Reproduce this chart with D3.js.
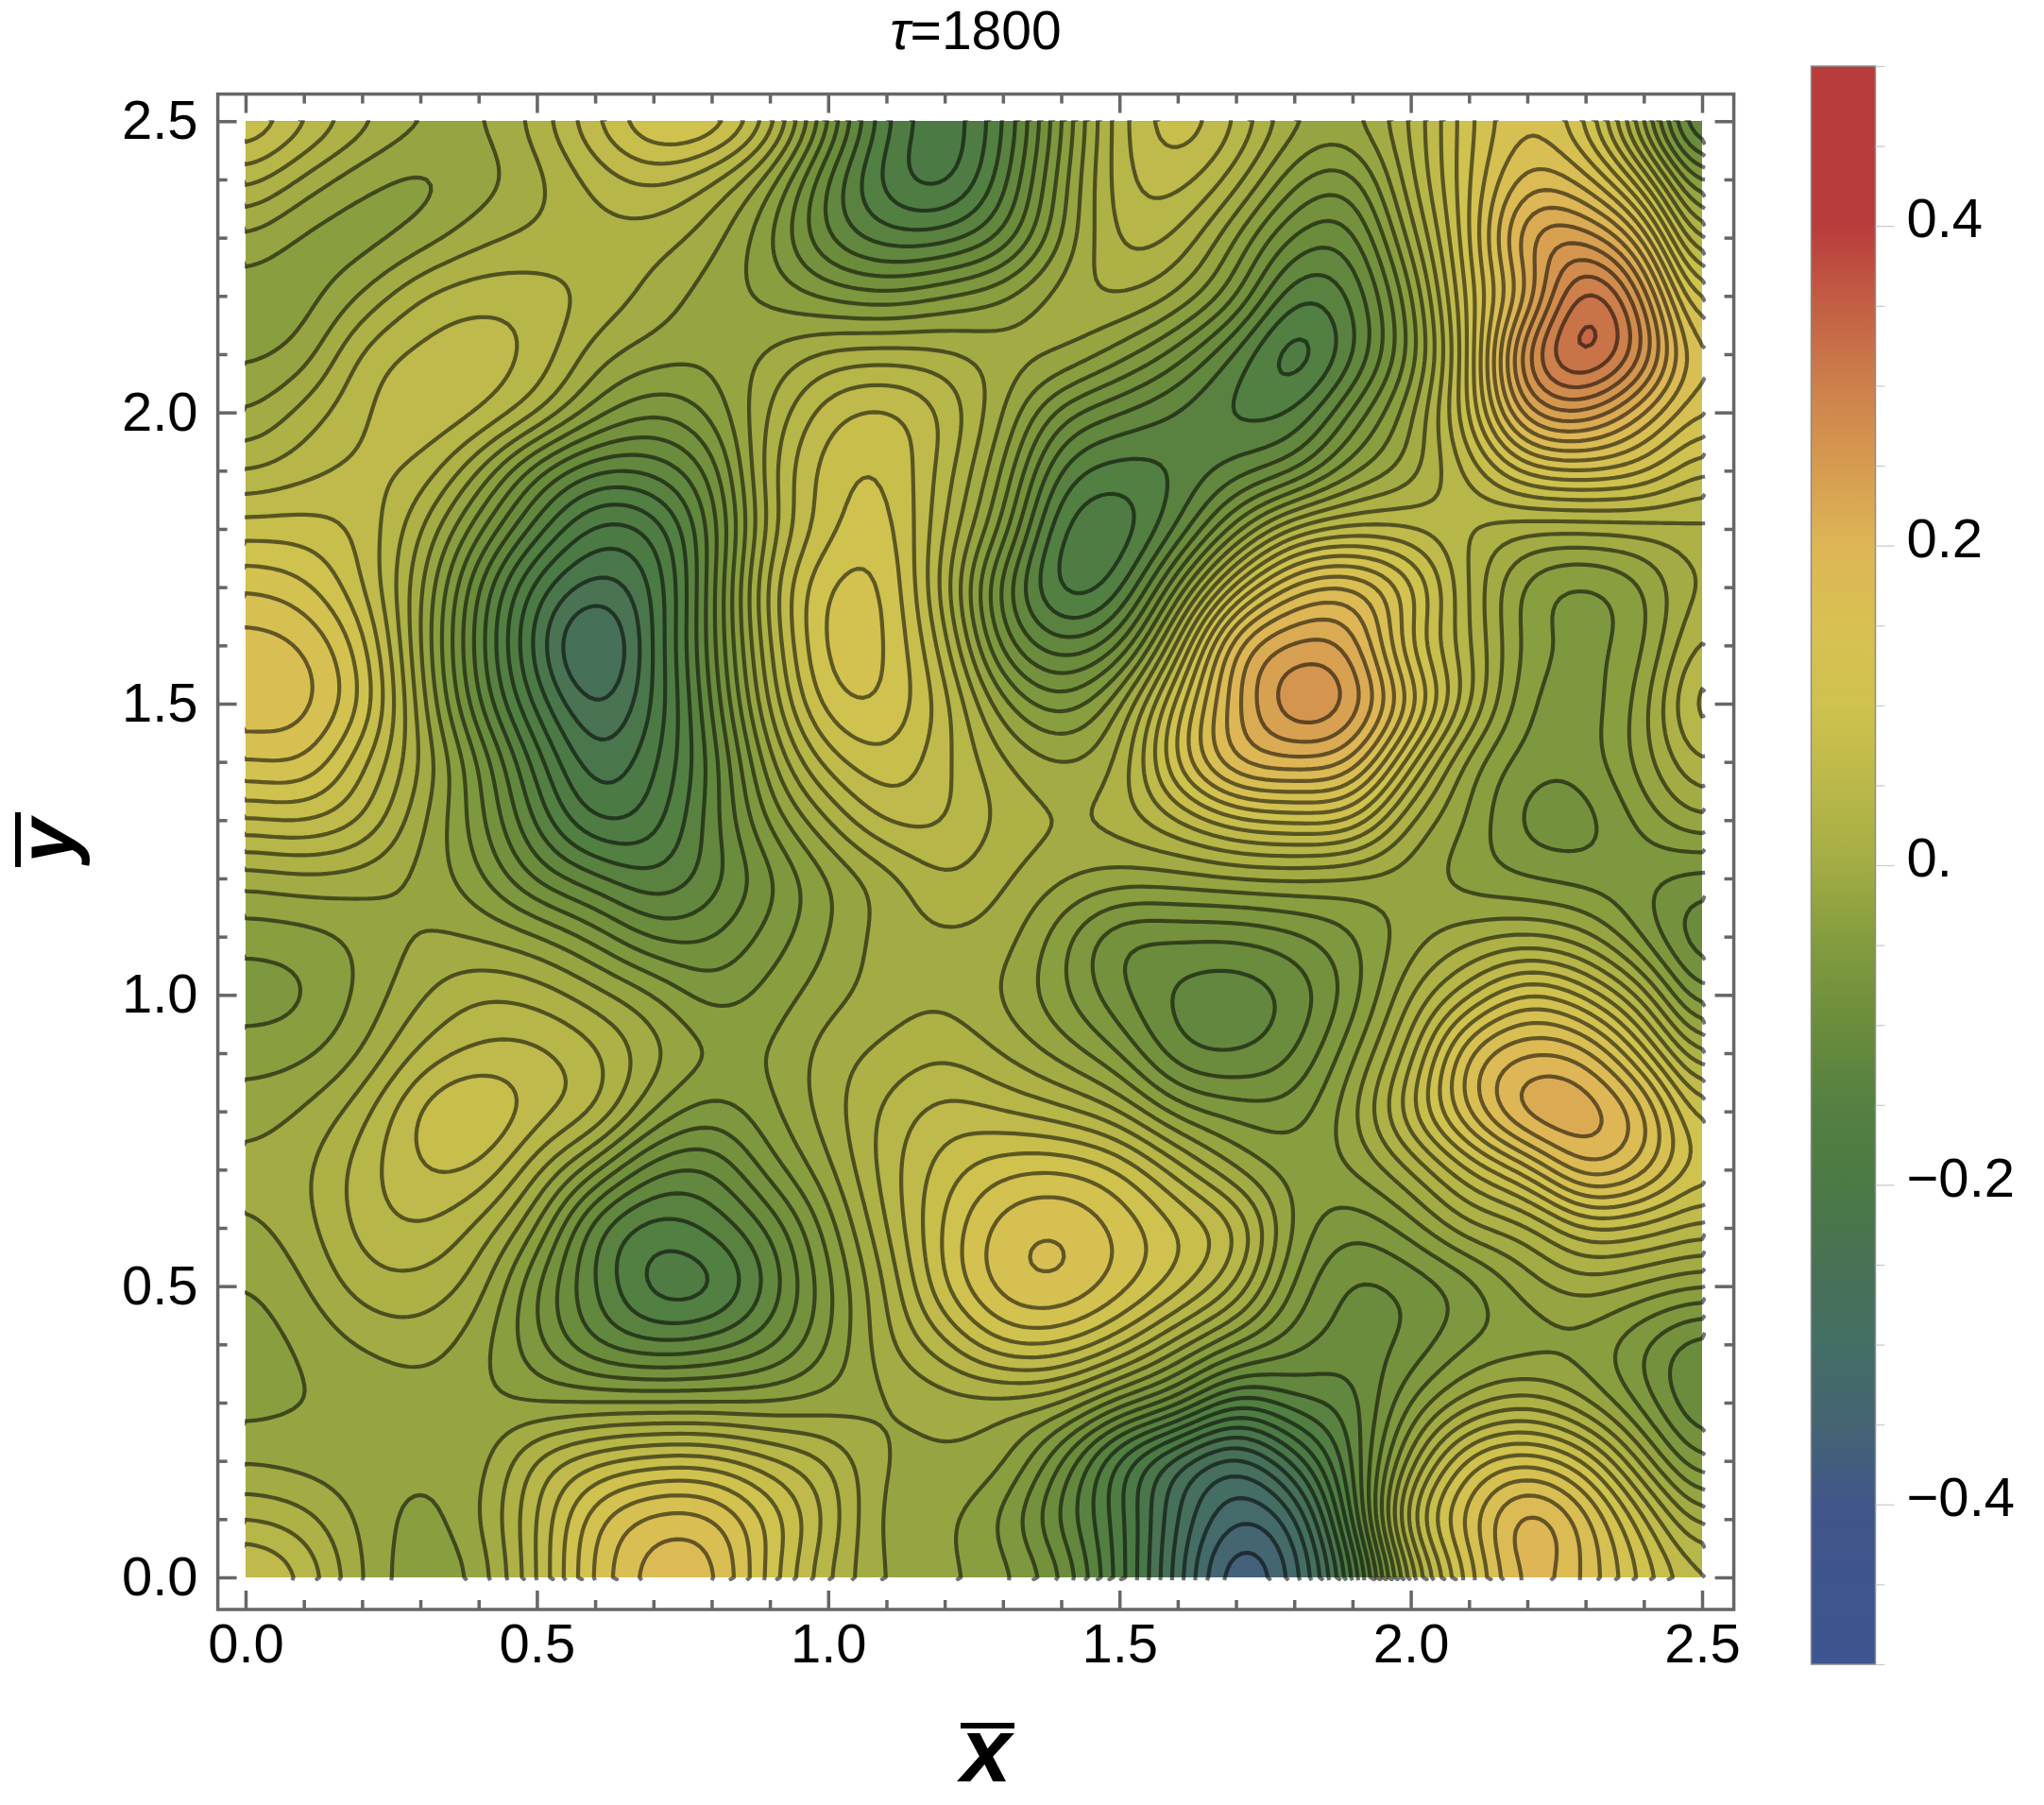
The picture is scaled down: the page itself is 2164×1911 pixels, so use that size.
<!DOCTYPE html>
<html>
<head>
<meta charset="utf-8">
<script src="https://cdn.jsdelivr.net/npm/d3@7"></script>
<style>
  html, body { margin: 0; padding: 0; background: #fff; }
  text { font-family: "Liberation Sans", Arial, sans-serif; fill: #000; }
</style>
</head>
<body>
<svg id="chart" width="2164" height="1911"></svg>
<script>
// field values, one row per y, top row first
const xGrid = d3.range(0, 26).map((i) => i / 10);
const yGrid = d3.range(25, -1, -1).map((i) => i / 10);
const y25 = [.095,.057,.02,-.007,-.012,.02,.07,.115,.113,.05,-.065,-.165,-.205,-.153,-.052,.043,.085,.052,-.005,-.012,.032,.105,.148,.105,-.02,-.16];
const y24 = [.04,.005,-.024,-.036,-.02,.003,.037,.055,.032,-.02,-.113,-.18,-.2,-.14,-.04,.043,.06,.02,-.045,-.06,.026,.107,.18,.158,.07,-.07];
const y23 = [-.012,-.035,-.04,-.022,.003,.015,.022,.02,-.002,-.048,-.112,-.142,-.14,-.107,-.03,.035,.027,-.03,-.095,-.10,.0,.107,.235,.245,.17,.005];
const y22 = [-.04,-.04,-.008,.03,.044,.04,.025,.003,-.02,-.035,-.055,-.065,-.05,-.033,.0,.012,-.012,-.065,-.148,-.128,-.035,.10,.205,.33,.247,.085];
const y21 = [-.035,-.022,.035,.055,.06,.045,.0,-.02,-.025,-.007,.015,.02,.015,.0,-.008,-.04,-.08,-.135,-.188,-.135,-.045,.09,.28,.345,.275,.135];
const y20 = [-.012,.018,.047,.066,.053,.015,-.04,-.068,-.045,.012,.062,.075,.047,-.008,-.08,-.11,-.132,-.155,-.15,-.085,-.015,.09,.23,.25,.19,.125];
const y19 = [.028,.043,.055,.045,-.01,-.085,-.13,-.125,-.085,.025,.08,.09,.04,-.03,-.135,-.16,-.148,-.12,-.095,-.035,.0,.055,.118,.13,.115,.068];
const y18 = [.08,.08,.065,.013,-.063,-.14,-.197,-.185,-.105,.02,.085,.10,.03,-.055,-.172,-.185,-.13,-.04,.035,.055,.05,.03,.015,.015,.018,.025];
const y17 = [.128,.115,.072,-.005,-.11,-.20,-.24,-.21,-.10,.04,.112,.11,.02,-.10,-.18,-.16,-.05,.08,.16,.175,.12,.028,-.038,-.056,-.032,.018];
const y16 = [.16,.15,.10,-.01,-.12,-.22,-.285,-.21,-.10,.03,.118,.112,.04,-.08,-.125,-.095,.035,.195,.235,.225,.105,.033,-.038,-.055,-.035,.043];
const y15 = [.165,.158,.11,.0,-.108,-.197,-.255,-.21,-.11,.015,.102,.108,.06,-.025,-.062,-.015,.10,.205,.27,.25,.147,.035,-.048,-.06,-.02,.072];
const y14 = [.128,.13,.075,.01,-.07,-.16,-.225,-.195,-.125,-.015,.06,.085,.055,.013,-.011,.012,.115,.195,.205,.19,.075,-.02,-.06,-.06,-.02,.035];
const y13 = [.067,.072,.05,-.005,-.062,-.135,-.193,-.18,-.12,-.045,.01,.055,.052,.025,.01,.018,.05,.085,.095,.09,.008,-.032,-.078,-.08,-.042,-.01];
const y12 = [-.002,.005,.0,-.015,-.045,-.095,-.125,-.147,-.12,-.075,-.03,.0,.03,.013,-.007,-.018,-.017,-.01,-.008,-.014,-.02,-.04,-.05,-.058,-.065,-.08];
const y11 = [-.042,-.038,-.025,-.008,-.012,-.028,-.058,-.095,-.092,-.062,-.03,.0,.007,.0,-.042,-.088,-.088,-.088,-.075,-.052,-.02,.002,.011,-.005,-.055,-.11];
const y10 = [-.06,-.053,-.025,.007,.028,.022,-.002,-.028,-.06,-.042,-.018,.0,.006,-.012,-.045,-.085,-.115,-.122,-.105,-.06,.008,.065,.115,.085,.02,-.075];
const y09 = [-.04,-.035,-.01,.035,.055,.055,.035,-.003,-.03,-.03,.0,.015,.027,.008,-.018,-.05,-.105,-.112,-.092,-.035,.04,.155,.19,.18,.10,.0];
const y08 = [-.02,-.008,.022,.075,.095,.06,.033,-.03,-.06,-.035,.0,.035,.058,.05,.035,.01,-.04,-.058,-.06,-.015,.067,.155,.225,.225,.18,.07];
const y07 = [-.005,.005,.04,.07,.068,.015,-.045,-.105,-.11,-.06,-.015,.04,.08,.104,.11,.09,.04,-.01,-.04,-.03,.01,.07,.12,.19,.16,.095];
const y06 = [-.015,.002,.037,.05,.025,-.03,-.125,-.16,-.145,-.107,-.04,.03,.094,.14,.15,.125,.09,.055,-.035,-.065,-.04,.005,.023,.07,.062,.04];
const y05 = [-.032,-.012,.02,.023,.0,-.07,-.13,-.18,-.178,-.125,-.055,.012,.09,.14,.15,.12,.08,.03,-.055,-.095,-.085,-.06,-.02,.0,-.015,-.03];
const y04 = [-.04,-.027,-.008,.0,-.022,-.065,-.11,-.128,-.12,-.095,-.05,.005,.045,.09,.09,.055,.0,-.05,-.083,-.10,-.085,-.05,-.04,-.037,-.07,-.105];
const y03 = [-.038,-.03,-.028,-.02,-.025,-.032,-.03,-.03,-.03,-.03,-.022,-.012,.0,.0,-.01,-.06,-.10,-.165,-.135,-.12,-.05,.0,.02,-.01,-.06,-.115];
const y02 = [-.012,-.018,-.024,-.025,-.02,.035,.065,.08,.08,.055,.03,-.012,-.012,-.024,-.09,-.18,-.245,-.285,-.225,-.13,.0,.10,.125,.09,.0,-.075];
const y01 = [.03,.018,-.015,-.037,-.012,.05,.125,.158,.155,.105,.045,-.018,-.025,-.055,-.115,-.18,-.27,-.33,-.30,-.15,.055,.14,.207,.16,.075,-.005];
const y00 = [.08,.05,-.01,-.045,-.026,.05,.135,.182,.18,.10,.03,-.012,-.025,-.042,-.085,-.18,-.28,-.375,-.325,-.20,-.005,.115,.20,.165,.105,.05];
const rows = [y25,y24,y23,y22,y21,y20,y19,y18,y17,y16,y15,y14,y13,y12,y11,y10,y09,y08,y07,y06,y05,y04,y03,y02,y01,y00];

const axisMajor = [0, 0.5, 1, 1.5, 2, 2.5];
const axisMinor = d3.range(0, 26).filter((i) => i % 5 !== 0).map((i) => i / 10);
const barMajor = [-0.4, -0.2, 0, 0.2, 0.4];
const levels = d3.range(-25, 25).map((n) => n * 0.02 + 0.01);

const colorDomain = [-.5,-.4,-.35,-.3,-.25,-.2,-.15,-.1,-.05,0,.05,.1,.15,.2,.25,.3,.35,.4,.5];
const colorRange = ["#3d5590","#40568a","#446473","#446e64","#487155","#4b7a44","#548041","#6b8c3c","#829b3e","#a3ac44","#bbb84a","#cfc24e","#d8c052","#deb655","#d69b50","#cd804b","#c35f44","#b93c3c","#b93c3c"];
const color = d3.scaleLinear().domain(colorDomain).range(colorRange);

const svg = d3.select("#chart");
const x = d3.scaleLinear().domain([0, 2.5]).range([260, 1802]);
const y = d3.scaleLinear().domain([0, 2.5]).range([1670, 128.3]);
const frame = { left: 230.6, right: 1835.6, top: 99.6, bottom: 1704 };

// smooth the hand read grid so the contour lines come out round
const upscale = 10;
const size = (xGrid.length - 1) * upscale + 1;
const at = (r, c) => rows[Math.max(0, Math.min(rows.length - 1, r))][Math.max(0, Math.min(xGrid.length - 1, c))];
const cubic = (a, b, c, d, t) =>
  b + 0.5 * t * (c - a + t * (2 * a - 5 * b + 4 * c - d + t * (3 * (b - c) + d - a)));
const fine = new Float64Array(size * size);
for (let j = 0; j < size; j++) {
  const rf = j / upscale, r0 = Math.min(Math.floor(rf), rows.length - 2), tr = rf - r0;
  for (let i = 0; i < size; i++) {
    const cf = i / upscale, c0 = Math.min(Math.floor(cf), xGrid.length - 2), tc = cf - c0;
    const col = [-1, 0, 1, 2].map((dr) =>
      cubic(at(r0 + dr, c0 - 1), at(r0 + dr, c0), at(r0 + dr, c0 + 1), at(r0 + dr, c0 + 2), tc));
    fine[j * size + i] = cubic(col[0], col[1], col[2], col[3], tr);
  }
}
if (d3.blur2) d3.blur2({ data: fine, width: size, height: size }, 3);

const contours = d3.contours().size([size, size]).thresholds(levels)(fine);

const px = (p) => x(((p - 0.5) / (size - 1)) * 2.5);
const py = (p) => y(2.5 - ((p - 0.5) / (size - 1)) * 2.5);
const project = d3.geoTransform({
  point(a, b) { this.stream.point(px(a), py(b)); },
});
const geo = d3.geoPath(project);

const defs = svg.append("defs");
defs.append("clipPath").attr("id", "plotClip").append("rect")
  .attr("x", x(0)).attr("y", y(2.5)).attr("width", x(2.5) - x(0)).attr("height", y(0) - y(2.5));
defs.append("clipPath").attr("id", "lineClip").append("rect")
  .attr("x", x(0) - 1).attr("y", y(2.5) - 1).attr("width", x(2.5) - x(0) + 5).attr("height", y(0) - y(2.5) + 5);

svg.append("g").attr("clip-path", "url(#plotClip)")
  .selectAll("path").data(contours).enter().append("path")
  .attr("d", geo)
  .attr("fill", (d) => color(d.value + 0.01));

// drop the part of a ring that only runs along the edge of the grid
const onEdge = (p) => p[0] <= 0 || p[0] >= size || p[1] <= 0 || p[1] >= size;
const splitRing = (ring) => {
  const pts = ring.slice(0, ring.length - 1);
  const start = pts.findIndex(onEdge);
  if (start < 0) return [ring];
  const runs = [];
  let run = [];
  for (let k = 0; k <= pts.length; k++) {
    const p = pts[(start + k) % pts.length];
    if (onEdge(p)) {
      if (run.length) { run.push(p); if (run.length > 1) runs.push(run); }
      run = [p];
    } else {
      run.push(p);
    }
  }
  return runs.filter((r) => r.length > 2 || !(onEdge(r[0]) && onEdge(r[r.length - 1])));
};

const line = d3.line().x((p) => px(p[0])).y((p) => py(p[1]));
const runs = [];
contours.forEach((c) => c.coordinates.forEach((poly) => poly.forEach((ring) => runs.push(...splitRing(ring)))));
svg.append("g").attr("clip-path", "url(#lineClip)")
  .selectAll("path").data(runs).enter().append("path")
  .attr("d", line)
  .attr("fill", "none")
  .attr("stroke", "#000")
  .attr("stroke-opacity", 0.55)
  .attr("stroke-width", 4.2)
  .attr("stroke-linejoin", "round");

// frame and the inward ticks on all four sides
svg.append("rect")
  .attr("x", frame.left).attr("y", frame.top)
  .attr("width", frame.right - frame.left).attr("height", frame.bottom - frame.top)
  .attr("fill", "none").attr("stroke", "#666").attr("stroke-width", 3.5);

const styleAxis = (g) => {
  g.select(".domain").remove();
  g.selectAll("line").attr("stroke", "#666").attr("stroke-width", 3.5);
  g.selectAll("text").attr("font-size", 58).attr("fill", "#000")
    .attr("font-family", '"Liberation Sans", Arial, sans-serif');
};
const ticks = (maker, scale, pos, values, len, label) => {
  const axis = maker(scale).tickValues(values).tickSizeInner(-len).tickSizeOuter(0)
    .tickPadding(label ? (maker === d3.axisBottom ? 15 : 21) : 0)
    .tickFormat(label ? d3.format(".1f") : "");
  svg.append("g").attr("transform", pos).call(axis).call(styleAxis);
};
ticks(d3.axisBottom, x, `translate(0,${frame.bottom})`, axisMajor, 20, true);
ticks(d3.axisBottom, x, `translate(0,${frame.bottom})`, axisMinor, 10, false);
ticks(d3.axisTop, x, `translate(0,${frame.top})`, axisMajor, 20, false);
ticks(d3.axisTop, x, `translate(0,${frame.top})`, axisMinor, 10, false);
ticks(d3.axisLeft, y, `translate(${frame.left},0)`, axisMajor, 20, true);
ticks(d3.axisLeft, y, `translate(${frame.left},0)`, axisMinor, 10, false);
ticks(d3.axisRight, y, `translate(${frame.right},0)`, axisMajor, 20, false);
ticks(d3.axisRight, y, `translate(${frame.right},0)`, axisMinor, 10, false);

// colour bar
const bar = { left: 1917.5, right: 1985.5, top: 70, bottom: 1762 };
const barScale = d3.scaleLinear().domain([-0.5, 0.5]).range([bar.bottom, bar.top]);
const grad = defs.append("linearGradient").attr("id", "barGrad")
  .attr("x1", 0).attr("x2", 0).attr("y1", 1).attr("y2", 0);
grad.selectAll("stop").data(colorDomain).enter().append("stop")
  .attr("offset", (d) => d + 0.5)
  .attr("stop-color", (d) => color(d));
svg.append("rect")
  .attr("x", bar.left).attr("y", bar.top)
  .attr("width", bar.right - bar.left).attr("height", bar.bottom - bar.top)
  .attr("fill", "url(#barGrad)").attr("stroke", "#8a8a8a").attr("stroke-width", 1.5);

const barLabel = (v) => (Math.abs(v) < 1e-9 ? "0." : d3.format(".1f")(v).replace("-", "\u2212"));
const barAxis = (values, len, label) => {
  const g = svg.append("g").attr("transform", `translate(${bar.right},0)`).call(
    d3.axisRight(barScale).tickValues(values).tickSizeInner(len).tickSizeOuter(0)
      .tickPadding(13).tickFormat(label ? barLabel : "")
  );
  g.select(".domain").remove();
  g.selectAll("line").attr("stroke", "#c8c8c8").attr("stroke-width", 1.2);
  g.selectAll("text").attr("font-size", 58).attr("fill", "#000").attr("dy", "0.2em")
    .attr("font-family", '"Liberation Sans", Arial, sans-serif');
};
barAxis(d3.range(-10, 11).map((i) => i * 0.05).filter((v) => !barMajor.some((m) => Math.abs(m - v) < 1e-9)), 10, false);
barAxis(barMajor, 20, true);

// title and axis labels
const title = svg.append("text").attr("x", 1033).attr("y", 52).attr("text-anchor", "middle").attr("font-size", 57);
title.append("tspan").attr("font-style", "italic").text("\u03c4");
title.append("tspan").text("=1800");

svg.append("text").attr("x", 1044).attr("y", 1886).attr("text-anchor", "middle")
  .attr("font-size", 96).attr("font-style", "italic").attr("font-weight", "bold").text("x");
svg.append("line").attr("x1", 1017).attr("x2", 1074).attr("y1", 1827).attr("y2", 1827)
  .attr("stroke", "#000").attr("stroke-width", 6);

const yLab = svg.append("g").attr("transform", "translate(78,890) rotate(-90)");
yLab.append("text").attr("text-anchor", "middle").attr("font-size", 84).attr("font-style", "italic").attr("font-weight", "bold").text("y");
yLab.append("line").attr("x1", -28).attr("x2", 30).attr("y1", -59).attr("y2", -59)
  .attr("stroke", "#000").attr("stroke-width", 6);
</script>
</body>
</html>
